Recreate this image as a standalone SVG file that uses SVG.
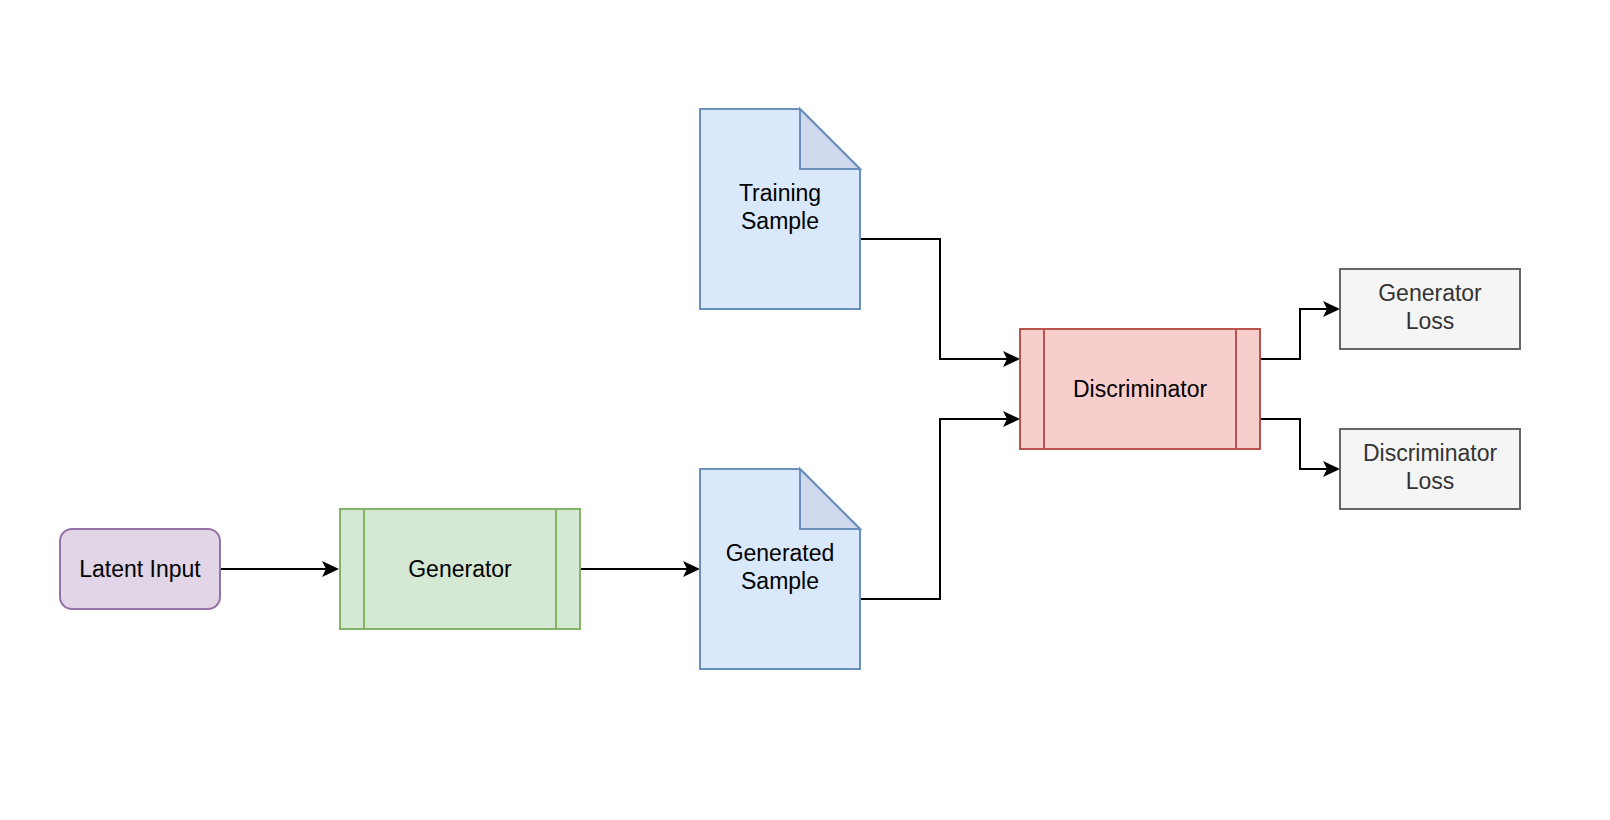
<svg xmlns="http://www.w3.org/2000/svg" width="1610" height="820" viewBox="0 0 1610 820">
<style>
text{font-family:"Liberation Sans",Arial,Helvetica,sans-serif;font-size:23px;text-anchor:middle;fill:#000}
.edge{fill:none;stroke:#000;stroke-width:2}
.purple{fill:#e1d5e7;stroke:#9673a6;stroke-width:2}
.green{fill:#d5e8d4;stroke:#82b366;stroke-width:2}
.blue{fill:#dae8fc;stroke:#6c8ebf;stroke-width:2;stroke-linejoin:miter}
.fold{fill:#cfdaee;stroke:#6c8ebf;stroke-width:2}
.red{fill:#f8cecc;stroke:#b85450;stroke-width:2}
.gray{fill:#f5f5f5;stroke:#666666;stroke-width:2}
.gray-t{fill:#333333}
</style>
<defs>
<marker id="arr" viewBox="0 0 17 16" markerWidth="17" markerHeight="16" refX="4" refY="8" orient="auto" markerUnits="userSpaceOnUse">
<path d="M17,8 L0,0 L4,8 L0,16 Z" fill="#000"/>
</marker>
</defs>
<g id="edges">
<path class="edge" d="M220,569 H326" marker-end="url(#arr)"/>
<path class="edge" d="M580,569 H687" marker-end="url(#arr)"/>
<path class="edge" d="M860,239 H940 V359 H1007" marker-end="url(#arr)"/>
<path class="edge" d="M860,599 H940 V419 H1007" marker-end="url(#arr)"/>
<path class="edge" d="M1260,359 H1300 V309 H1327" marker-end="url(#arr)"/>
<path class="edge" d="M1260,419 H1300 V469 H1327" marker-end="url(#arr)"/>
</g>
<g id="latent">
<rect class="purple" x="60" y="529" width="160" height="80" rx="12"/>
<text x="140" y="577">Latent Input</text>
</g>
<g id="generator">
<rect class="green" x="340" y="509" width="240" height="120"/>
<line class="green" x1="364" y1="509" x2="364" y2="629"/>
<line class="green" x1="556" y1="509" x2="556" y2="629"/>
<text x="460" y="577">Generator</text>
</g>
<g id="training">
<path class="blue" d="M700,109 H800 L860,169 V309 H700 Z"/>
<path class="fold" d="M800,109 V169 H860 Z"/>
<text x="780" y="201">Training</text>
<text x="780" y="229">Sample</text>
</g>
<g id="generated">
<path class="blue" d="M700,469 H800 L860,529 V669 H700 Z"/>
<path class="fold" d="M800,469 V529 H860 Z"/>
<text x="780" y="561">Generated</text>
<text x="780" y="589">Sample</text>
</g>
<g id="discriminator">
<rect class="red" x="1020" y="329" width="240" height="120"/>
<line class="red" x1="1044" y1="329" x2="1044" y2="449"/>
<line class="red" x1="1236" y1="329" x2="1236" y2="449"/>
<text x="1140" y="397">Discriminator</text>
</g>
<g id="genloss">
<rect class="gray" x="1340" y="269" width="180" height="80"/>
<text class="gray-t" x="1430" y="301">Generator</text>
<text class="gray-t" x="1430" y="329">Loss</text>
</g>
<g id="discloss">
<rect class="gray" x="1340" y="429" width="180" height="80"/>
<text class="gray-t" x="1430" y="461">Discriminator</text>
<text class="gray-t" x="1430" y="489">Loss</text>
</g>
</svg>
